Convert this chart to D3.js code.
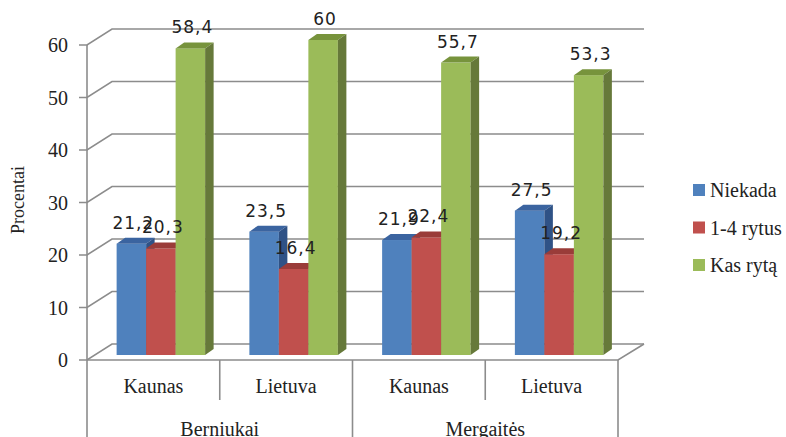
<!DOCTYPE html>
<html><head><meta charset="utf-8">
<script src="https://cdn.jsdelivr.net/npm/d3@7"></script>
<style>body{margin:0;background:#fff}svg{display:block}</style>
</head><body>
<svg id="c" width="786" height="437"></svg>
<script>
const categories = ["Kaunas","Lietuva","Kaunas","Lietuva"];
const groups = [{name:"Berniukai", span:2},{name:"Mergaitės", span:2}];
const seriesNames = ["Niekada","1-4 rytus","Kas rytą"];
const niekada = [21.2, 23.5, 21.9, 27.5];
const rytus14 = [20.3, 16.4, 22.4, 19.2];
const kasRyta = [58.4, 60, 55.7, 53.3];
const labelText = [["21,2","23,5","21,9","27,5"],["20,3","16,4","22,4","19,2"],["58,4","60","55,7","53,3"]];
const yTicks = [0,10,20,30,40,50,60];
const colors = ["#4F81BD","#C0504D","#9BBB59"];
const topColors = ["#3B64A0","#9A3C39","#77933C"];
const sideColors = ["#2F5286","#86322F","#66793A"];

const series = [niekada, rytus14, kasRyta];
const svg = d3.select("#c");
const x0 = 87, x1 = 618, yBase = 360, yTop = 45;
const DX = 25, DY = -16;         // wall depth
const bdx = 7.5, bdy = -5;       // bar plane offset
const bDepthX = 8.5, bDepthY = -6;
const gridColor = "#8C8C8C";

const x = d3.scaleBand().domain(d3.range(categories.length)).range([x0, x1]).padding(0);
const xs = d3.scaleBand().domain(d3.range(3)).range([0, x.bandwidth()]).paddingInner(0).paddingOuter(0.75);
const y = d3.scaleLinear().domain([0, 60]).range([yBase, yTop]);

// gridlines / back wall
const g = svg.append("g").attr("fill","none").attr("stroke",gridColor).attr("stroke-width",1.6);
yTicks.forEach(t => {
  const yy = y(t);
  g.append("path").attr("d", `M${x0-8},${yy}L${x0},${yy}L${x0+DX},${yy+DY}L${x1+DX+1},${yy+DY}`);
});
// floor front edge & right diagonal
g.append("path").attr("d", `M${x0},${yBase}L${x1},${yBase}L${x1+DX+1},${yBase+DY}`);
// left axis vertical extends to bottom
g.append("line").attr("x1",x0).attr("x2",x0).attr("y1",y(60)).attr("y2",437);
// category dividers
x.domain().forEach(i => {
  if (i === 0) return;
  const xx = x(i);
  const isGroup = (i % 2 === 0);
  g.append("line").attr("x1",xx).attr("x2",xx).attr("y1",yBase).attr("y2", isGroup ? 437 : 400);
});
g.append("line").attr("x1",x1).attr("x2",x1).attr("y1",yBase).attr("y2",437);

// y tick labels
svg.append("g").selectAll("text").data(yTicks).join("text")
  .attr("x", x0-19).attr("y", d => y(d)+7).attr("text-anchor","end")
  .attr("font-family","Liberation Serif").attr("font-size",20).attr("fill","#222")
  .text(d => d);

// axis title
svg.append("text").attr("transform","translate(24,200) rotate(-90)").attr("text-anchor","middle")
  .attr("font-family","Liberation Serif").attr("font-size",18).attr("fill","#222").text("Procentai");

// category labels
svg.append("g").selectAll("text").data(categories).join("text")
  .attr("x",(d,i)=>x(i)+x.bandwidth()/2).attr("y",393).attr("text-anchor","middle")
  .attr("font-family","Liberation Serif").attr("font-size",20).attr("fill","#222").text(d=>d);
// group labels
let gi = 0;
groups.forEach(gr => {
  const a = x(gi), b = x(gi+gr.span-1)+x.bandwidth();
  svg.append("text").attr("x",(a+b)/2).attr("y",436).attr("text-anchor","middle")
    .attr("font-family","Liberation Serif").attr("font-size",20).attr("fill","#222").text(gr.name);
  gi += gr.span;
});

// bars
const bars = svg.append("g");
const labelsG = svg.append("g");
categories.forEach((c, ci) => {
  series.forEach((vals, si) => {
    const v = vals[ci];
    const bx = x(ci) + xs(si) + bdx;
    const bw = xs.bandwidth();
    const by = y(v) + bdy;
    const bb = y(0) + bdy;
    // front
    bars.append("rect").attr("x",bx).attr("y",by).attr("width",bw).attr("height",bb-by).attr("fill",colors[si]);
    // top
    bars.append("path").attr("d",`M${bx},${by}L${bx+bDepthX},${by+bDepthY}L${bx+bw+bDepthX},${by+bDepthY}L${bx+bw},${by}Z`).attr("fill",topColors[si]);
    // side
    bars.append("path").attr("d",`M${bx+bw},${by}L${bx+bw+bDepthX},${by+bDepthY}L${bx+bw+bDepthX},${bb+bDepthY}L${bx+bw},${bb}Z`).attr("fill",sideColors[si]);
  });
});
categories.forEach((c, ci) => {
  series.forEach((vals, si) => {
    const v = vals[ci];
    const bx = x(ci) + xs(si) + bdx;
    const bw = xs.bandwidth();
    labelsG.append("text").attr("x",bx+bw/2+2).attr("y",y(v)+bdy-15).attr("text-anchor","middle")
      .attr("font-family","DejaVu Sans").attr("font-size",17).attr("letter-spacing",1).attr("fill","#222")
      .text(labelText[si][ci]);
  });
});

// legend
const lg = svg.append("g").attr("transform","translate(693,0)");
seriesNames.forEach((n,i) => {
  const cy = 190 + i*37.5;
  lg.append("rect").attr("x",0).attr("y",cy-6).attr("width",12).attr("height",12).attr("fill",colors[i]);
  lg.append("text").attr("x",17).attr("y",cy+7).attr("font-family","Liberation Serif").attr("font-size",20).attr("fill","#222").text(n);
});
</script>
</body></html>
